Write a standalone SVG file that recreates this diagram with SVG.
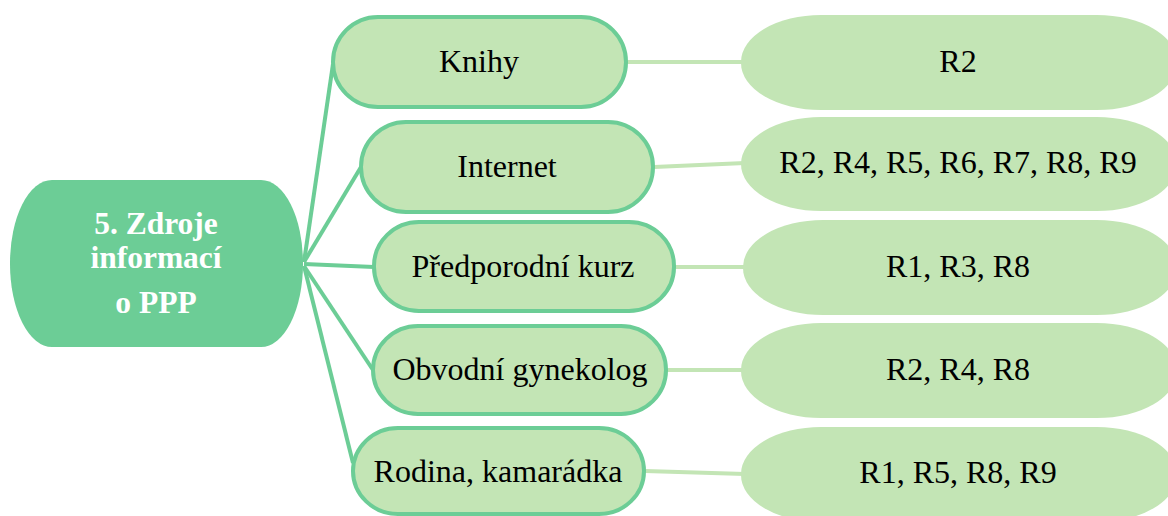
<svg xmlns="http://www.w3.org/2000/svg" width="1168" height="516" viewBox="0 0 1168 516">
<style>
.mid{fill:#C3E5B5;stroke:#6CCD96;stroke-width:4}
.res{fill:#C3E5B5}
.c1{stroke:#6CCD96;stroke-width:4;fill:none}
.c2{stroke:#C3E5B5;stroke-width:4;fill:none}
text{font-family:'Liberation Serif','Times New Roman',serif}
.t{font-size:32px;fill:#000;text-anchor:middle}
.tb{font-size:31.5px;font-weight:bold;fill:#fff;text-anchor:middle}
</style>
<rect width="1168" height="516" fill="#fff"/>
<g id="connectors">
<line class="c1" x1="304" y1="262" x2="333" y2="64"/>
<line class="c1" x1="304" y1="262" x2="361" y2="167"/>
<line class="c1" x1="304" y1="264" x2="374" y2="267"/>
<line class="c1" x1="304" y1="266" x2="373" y2="370"/>
<line class="c1" x1="304" y1="266" x2="353" y2="463"/>
<line class="c2" x1="627" y1="62" x2="745" y2="62"/>
<line class="c2" x1="654" y1="167" x2="745" y2="163"/>
<line class="c2" x1="675" y1="267" x2="748" y2="267"/>
<line class="c2" x1="667" y1="370" x2="745" y2="370"/>
<line class="c2" x1="645" y1="471" x2="745" y2="474"/>
</g>
<g id="center">
<rect x="10" y="180" width="293" height="167" rx="42" ry="83" fill="#6CCD96"/>
<text class="tb" x="156" y="234">5. Zdroje</text>
<text class="tb" x="156" y="268">informací</text>
<text class="tb" x="156" y="313">o PPP</text>
</g>
<g id="knihy">
<rect class="mid" x="333" y="17" width="293" height="90" rx="45" ry="45"/>
<text class="t" x="479" y="72">Knihy</text>
</g>
<g id="internet">
<rect class="mid" x="361" y="122" width="292" height="90" rx="45" ry="45"/>
<text class="t" x="507" y="177">Internet</text>
</g>
<g id="predporodni">
<rect class="mid" x="374" y="222" width="300" height="89" rx="45" ry="44"/>
<text class="t" x="523" y="277">Předporodní kurz</text>
</g>
<g id="obvodni">
<rect class="mid" x="373" y="326" width="293" height="88" rx="45" ry="44"/>
<text class="t" x="520" y="380">Obvodní gynekolog</text>
</g>
<g id="rodina">
<rect class="mid" x="353" y="428" width="291" height="86" rx="45" ry="43"/>
<text class="t" x="498" y="482">Rodina, kamarádka</text>
</g>
<g id="r-knihy">
<rect class="res" x="741" y="15" width="436" height="95" rx="80" ry="47"/>
<text class="t" x="958" y="72">R2</text>
</g>
<g id="r-internet">
<rect class="res" x="741" y="117" width="436" height="94" rx="80" ry="47"/>
<text class="t" x="958" y="173">R2, R4, R5, R6, R7, R8, R9</text>
</g>
<g id="r-predporodni">
<rect class="res" x="743" y="220" width="434" height="95" rx="80" ry="47"/>
<text class="t" x="958" y="277">R1, R3, R8</text>
</g>
<g id="r-obvodni">
<rect class="res" x="741" y="323" width="436" height="95" rx="80" ry="47"/>
<text class="t" x="958" y="380">R2, R4, R8</text>
</g>
<g id="r-rodina">
<rect class="res" x="741" y="427" width="436" height="95" rx="80" ry="47"/>
<text class="t" x="958" y="483">R1, R5, R8, R9</text>
</g>
</svg>
